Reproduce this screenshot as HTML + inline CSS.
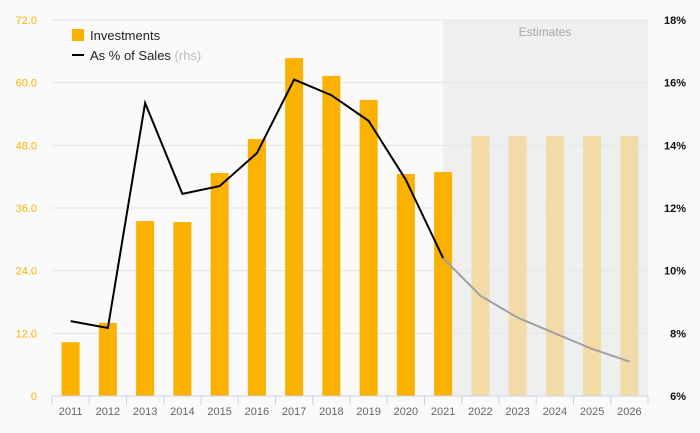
<!DOCTYPE html>
<html><head><meta charset="utf-8"><style>
body{margin:0;background:#fafafa;font-family:"Liberation Sans",sans-serif}
svg{display:block}
</style></head><body>
<svg id="c" width="700" height="433">
<rect x="443" y="20" width="205" height="376" fill="#efefef"/>
<text x="545" y="36" text-anchor="middle" font-size="12" fill="#a8a8a8">Estimates</text>
<g id="grid"></g><g id="bars"></g><g id="line"></g><g id="axes"></g>
<g>
<rect x="72" y="29" width="12" height="12" fill="#fbb100"/>
<text x="90" y="40" font-size="13" fill="#222">Investments</text>
<rect x="72" y="54" width="12" height="2" fill="#000"/>
<text x="90" y="60" font-size="13" fill="#222">As % of Sales <tspan fill="#bbb">(rhs)</tspan></text>
</g>
</svg>
<script>
const years=["2011","2012","2013","2014","2015","2016","2017","2018","2019","2020","2021","2022","2023","2024","2025","2026"];
const investments=[10.3,14.0,33.5,33.3,42.7,49.2,64.7,61.3,56.7,42.5,42.9,49.8,49.8,49.8,49.8,49.8];
const pctSales=[8.39,8.17,15.35,12.45,12.7,13.75,16.1,15.6,14.78,12.9,10.4,9.2,8.5,8.0,7.5,7.1];
const leftTicks=[0,12,24,36,48,60,72];
const rightTicks=[6,8,10,12,14,16,18];
const firstEstimate=11;
const NS="http://www.w3.org/2000/svg";
const x0=52,x1=648,yTop=20,bot=396;
const step=(x1-x0)/years.length;
const xc=i=>x0+step*(i+0.5);
const yL=v=>bot-(v/72)*(bot-yTop);
const yR=v=>bot-((v-6)/12)*(bot-yTop);
function mk(tag,attrs,parent){const e=document.createElementNS(NS,tag);for(const k in attrs)e.setAttribute(k,attrs[k]);parent.appendChild(e);return e;}
const G=document.getElementById('grid'),B=document.getElementById('bars'),L=document.getElementById('line'),A=document.getElementById('axes');
leftTicks.forEach((t,i)=>{
 if(t>0){const g=mk('line',{x1:x0,x2:x1,y1:yL(t),y2:yL(t),stroke:'#e4e4e4'},G);
 
 }
 const tx=mk('text',{x:37,y:yL(t)+4,'text-anchor':'end','font-size':11,fill:'#fbb100'},A);tx.textContent=t===0?'0':t.toFixed(1);
 
 
});
rightTicks.forEach(t=>{
 const tx=mk('text',{x:686,y:yR(t)+4,'text-anchor':'end','font-size':11,fill:'#111','font-weight':'bold'},A);tx.textContent=t+'%';
 
 
});
investments.forEach((v,i)=>{
 const r=mk('rect',{x:xc(i)-9,y:yL(v),width:18,height:bot-yL(v),fill:i>=firstEstimate?'#f3dba8':'#fbb100'},B);
 
 
});
const ax=mk('line',{x1:x0,x2:x1,y1:bot,y2:bot,stroke:'#c8d4e8'},A);


for(let i=0;i<=years.length;i++){const t=mk('line',{x1:x0+step*i,x2:x0+step*i,y1:bot,y2:bot+9,stroke:'#c8d4e8'},A);
 
 }
years.forEach((y,i)=>{const t=mk('text',{x:xc(i),y:415,'text-anchor':'middle','font-size':11,fill:'#666'},A);t.textContent=y;
 
 });
const pts=pctSales.map((v,i)=>xc(i)+','+yR(v));
const p1=mk('polyline',{points:pts.slice(0,firstEstimate).join(' '),fill:'none',stroke:'#000','stroke-width':2},L);


const p2=mk('polyline',{points:pts.slice(firstEstimate-1).join(' '),fill:'none',stroke:'#a0a0a0','stroke-width':2},L);


</script>
</body></html>
